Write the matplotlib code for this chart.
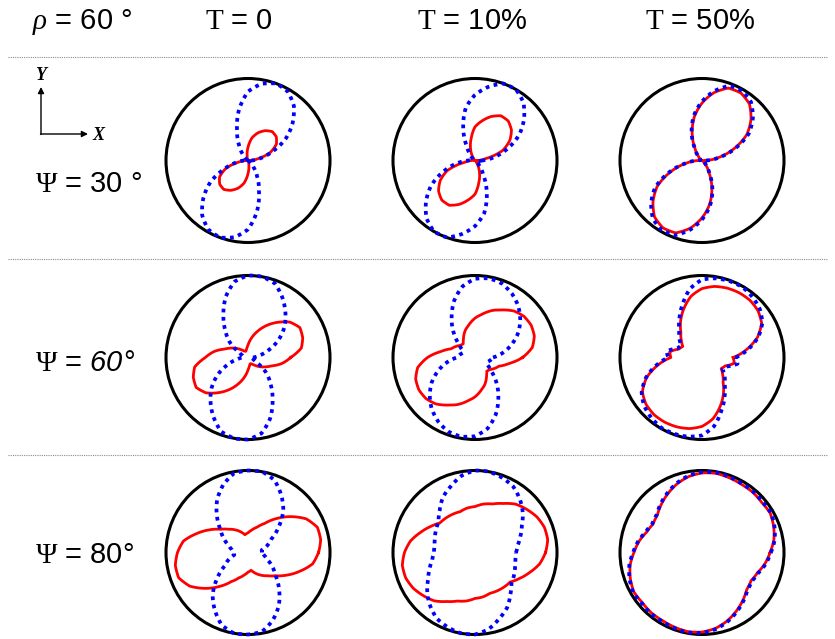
import numpy as np
import matplotlib
matplotlib.use("Agg")
import matplotlib.pyplot as plt
from matplotlib.patches import Circle

plt.rcParams['font.family'] = ['Liberation Sans', 'DejaVu Sans']
plt.rcParams['mathtext.fontset'] = 'custom'
plt.rcParams['mathtext.rm'] = 'Liberation Serif'
plt.rcParams['mathtext.it'] = 'Liberation Serif:italic'
plt.rcParams['mathtext.bf'] = 'Liberation Serif:bold'
plt.rcParams['mathtext.sf'] = 'Liberation Sans:italic'

# polar sampling angles (deg); patterns are centrosymmetric, r(t+180) = r(t)
angles_deg = [0, 10, 20, 30, 40, 50, 60, 70, 80, 90, 100, 110, 120, 130, 140, 150, 160, 170]

col_titles = [r'$\mathrm{T}$ = 0', r'$\mathrm{T}$ = 10%', r'$\mathrm{T}$ = 50%']
row_titles = [r'$\Psi$ = 30 °', r'$\Psi$ = $\mathsf{60°}$', r'$\Psi$ = 80°']
corner_title = r'$\rho$ = 60 °'

# normalised radius (outer circle = 1)
# row Psi=30
blue_30_t0 = [.04, .15, .31, .53, .71, .87, .97, 1.0, .95, .84, .63, .39, .22, .10, .03, .00, .00, .01]
red_30_t0 = [.02, .12, .29, .40, .45, .46, .42, .36, .28, .16, .06, .02, .00, .00, .00, .00, .00, .00]
blue_30_t10 = [.08, .24, .42, .62, .78, .92, 1.0, 1.0, .91, .80, .65, .42, .20, .08, .03, .02, .02, .04]
red_30_t10 = [.04, .13, .36, .49, .58, .63, .63, .57, .49, .41, .27, .16, .07, .02, .01, .00, .00, .01]
blue_30_t50 = [.05, .21, .43, .66, .81, .93, .98, .97, .86, .72, .56, .37, .18, .08, .03, .02, .02, .02]
red_30_t50 = [.04, .20, .41, .63, .78, .90, .95, .94, .84, .70, .54, .35, .17, .07, .02, .01, .01, .01]
# row Psi=60
blue_60_t0 = [.06, .14, .27, .43, .58, .71, .84, .96, 1.0, 1.0, .94, .79, .60, .43, .29, .12, .07, .05]
red_60_t0 = [.52, .66, .71, .73, .67, .56, .45, .34, .24, .15, .10, .08, .09, .12, .17, .23, .30, .42]
blue_60_t10 = [.22, .35, .48, .61, .72, .82, .90, .96, .98, .96, .88, .74, .57, .41, .26, .17, .16, .19]
red_60_t10 = [.58, .71, .77, .79, .78, .74, .67, .61, .54, .48, .41, .35, .28, .22, .23, .27, .31, .42]
blue_60_t50 = [.41, .57, .73, .85, .92, .96, .99, .99, .98, .95, .85, .69, .55, .43, .36, .29, .32, .44]
red_60_t50 = [.38, .55, .72, .84, .89, .91, .91, .90, .88, .84, .76, .64, .52, .40, .33, .27, .30, .40]
# row Psi=80
blue_80_t0 = [.17, .17, .25, .33, .49, .67, .81, .94, 1.0, 1.0, .98, .88, .75, .59, .44, .34, .25, .20]
red_80_t0 = [.86, .90, .90, .82, .68, .54, .41, .33, .28, .24, .22, .27, .32, .37, .44, .55, .67, .80]
blue_80_t10 = [.50, .53, .59, .66, .76, .85, .93, .97, 1.0, 1.0, .95, .86, .78, .67, .58, .55, .52, .50]
red_80_t10 = [.86, .90, .90, .87, .82, .77, .69, .63, .60, .56, .55, .53, .54, .55, .56, .63, .71, .80]
blue_80_t50 = [.84, .90, .94, .97, .96, .97, .97, .98, .99, .98, .95, .90, .84, .78, .72, .70, .73, .79]
red_80_t50 = [.83, .89, .93, .96, .95, .96, .96, .97, .98, .97, .94, .89, .83, .77, .71, .69, .72, .78]

blue_curves = [[blue_30_t0, blue_30_t10, blue_30_t50],
               [blue_60_t0, blue_60_t10, blue_60_t50],
               [blue_80_t0, blue_80_t10, blue_80_t50]]
red_curves = [[red_30_t0, red_30_t10, red_30_t50],
              [red_60_t0, red_60_t10, red_60_t50],
              [red_80_t0, red_80_t10, red_80_t50]]

W, H = 835, 639
col_x = [248, 475, 702]      # circle centres, pixels
row_y = [160.5, 357.5, 552.5]
rad = 82

fig = plt.figure(figsize=(W / 100, H / 100), dpi=100)

# overlay in pixel coordinates for text, separators and the axis sketch
bg = fig.add_axes([0, 0, 1, 1])
bg.set_xlim(0, W)
bg.set_ylim(H, 0)
bg.axis('off')

for y in [57, 259, 455]:
    bg.plot([8, 828], [y, y], color='#8c8c8c', lw=0.8, ls=(0, (1, 1)))

bg.text(32, 29, corner_title, fontsize=21, ha='left', va='baseline')
for x, t in zip([205, 417, 645], col_titles):
    bg.text(x, 29, t, fontsize=21, ha='left', va='baseline')
for y, t in zip([192, 371, 563], row_titles):
    bg.text(35, y, t, fontsize=21, ha='left', va='baseline')

bg.annotate('', xy=(41, 87), xytext=(41, 134.5),
            arrowprops=dict(arrowstyle='-|>', lw=1, color='black', mutation_scale=9, shrinkA=0, shrinkB=0))
bg.annotate('', xy=(88, 134), xytext=(40.5, 134),
            arrowprops=dict(arrowstyle='-|>', lw=1, color='black', mutation_scale=9, shrinkA=0, shrinkB=0))
bg.text(41, 76, 'Y', fontsize=13, family='Liberation Serif', style='italic', weight='bold', ha='center', va='center')
bg.text(98, 135, 'X', fontsize=13, family='Liberation Serif', style='italic', weight='bold', ha='center', va='center')

th = np.deg2rad(np.array(angles_deg + [a + 180 for a in angles_deg] + [360]))

for i in range(3):
    for j in range(3):
        ax = fig.add_axes([(col_x[j] - rad) / W, (H - row_y[i] - rad) / H, 2 * rad / W, 2 * rad / H],
                          projection='polar')
        ax.set_ylim(0, 1)
        ax.set_xticks([])
        ax.set_yticks([])
        ax.grid(False)
        for sp in ax.spines.values():
            sp.set_visible(False)
        # outer frame circle
        ax.add_artist(Circle((0.5, 0.5), 0.5, transform=ax.transAxes, fill=False,
                             edgecolor='black', lw=2.2, clip_on=False, zorder=2))
        for vals, color, ls, lw, z in [(red_curves[i][j], '#ff0000', '-', 2.0, 3),
                                       (blue_curves[i][j], '#0000ff', (0, (1, 1.2)), 2.7, 4)]:
            r = np.array(vals + vals + [vals[0]])
            line, = ax.plot(th, r, color=color, ls=ls, lw=lw, zorder=z, clip_on=False)
            line.get_path()._interpolation_steps = 16

fig.savefig('out.png', dpi=100)
